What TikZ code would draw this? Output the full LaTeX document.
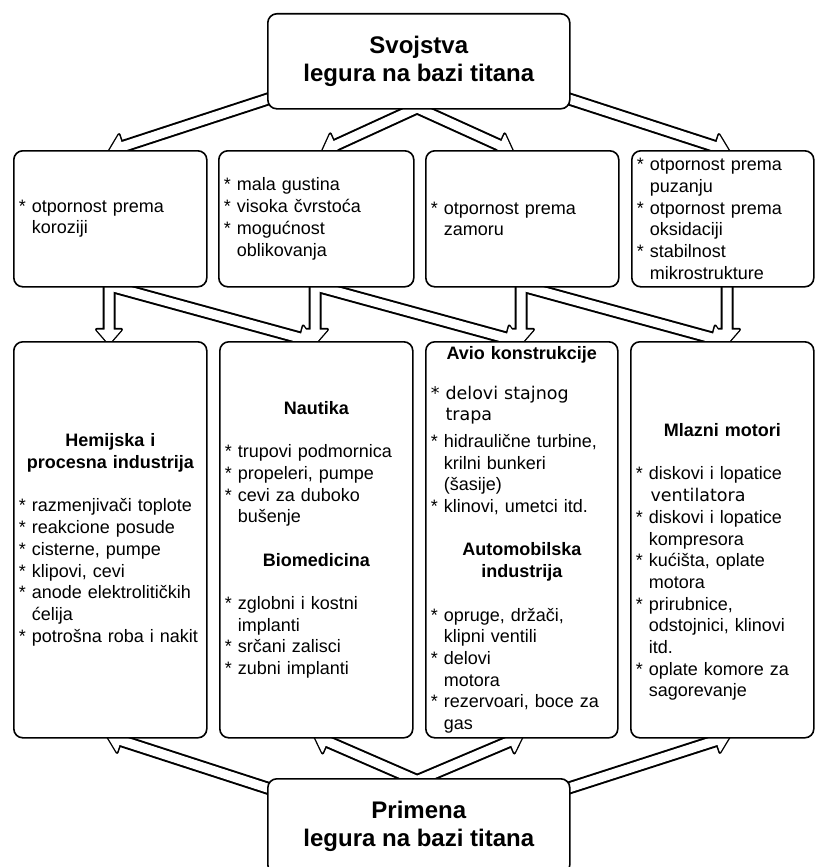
\documentclass[tikz,border=0pt]{standalone}
\usepackage{fontspec}
\setmainfont{Liberation Sans}
\newfontfamily\dejavu{DejaVu Sans}
\usetikzlibrary{calc,positioning,shapes.arrows,backgrounds}

\newcommand{\bul}{*\ }
\newcommand{\ind}{\hphantom{\bul}}
\newcommand{\hd}[1]{\makebox[\hsize]{\bfseries #1}}
\newcommand{\dv}[1]{{\dejavu\fontsize{17.5}{21.7}\selectfont #1}}
\newcommand{\blockarrow}[3]{%
  \path let \p1=($(#3)-(#2)$), \n1={atan2(\y1,\x1)}, \n2={veclen(\x1,\y1)} in
    node[#1, rotate=-\n1, minimum height=\n2] at ($(#2)!0.5!(#3)$) {};}

\tikzset{
  titlebox/.style={draw, line width=1.6pt, rounded corners=9pt, fill=white, anchor=north west,
    minimum width=302pt, minimum height=95pt, inner sep=0pt, align=center,
    font=\fontsize{24}{28}\selectfont\bfseries},
  itembox/.style={draw, line width=1.6pt, rounded corners=9pt, fill=white, anchor=north west,
    inner xsep=5pt, inner ysep=0pt, align=left, font=\fontsize{18}{21.7}\selectfont},
  arrowshape/.style={single arrow, single arrow head extend=7.5pt, single arrow tip angle=82,
    inner xsep=0pt, inner ysep=3.5pt, minimum width=0pt, outer sep=0pt, line join=round},
  arrowback/.style={arrowshape, draw=black, line width=3pt},
  arrowfront/.style={arrowshape, draw=white, fill=white, line width=1pt}
}

\begin{document}
\begin{tikzpicture}[x=1pt,y=1pt,yscale=-1]
	\useasboundingbox (0,0) rectangle (815,867);

	% title boxes
	\node[titlebox] (svojstva) at (267,13) {Svojstva\\legura na bazi titana};
	\node[titlebox] (primena) at (267,778) {Primena\\legura na bazi titana};

	% properties
	\node[itembox, minimum width=193pt, minimum height=136pt, text width=183pt] (korozija) at (13,150)
		{\bul otpornost prema\\\ind koroziji};
	\node[itembox, minimum width=195pt, minimum height=136pt, text width=185pt] (gustina) at (218,150)
		{\bul mala gustina\\\bul visoka čvrstoća\\\bul mogućnost\\\ind oblikovanja};
	\node[itembox, minimum width=193pt, minimum height=136pt, text width=183pt] (zamor) at (425,150)
		{\bul otpornost prema\\\ind zamoru};
	\node[itembox, minimum width=182pt, minimum height=136pt, text width=172pt] (puzanje) at (631,150)
		{\bul otpornost prema\\\ind puzanju\\\bul otpornost prema\\\ind oksidaciji\\\bul stabilnost\\\ind mikrostrukture};

	% applications
	\node[itembox, minimum width=193pt, minimum height=396pt, text width=183pt] (hemija) at (13,341)
		{\hd{Hemijska i}\\\hd{procesna industrija}\\[\baselineskip]
		 \bul razmenjivači toplote\\\bul reakcione posude\\\bul cisterne, pumpe\\\bul klipovi, cevi\\
		 \bul anode elektrolitičkih\\\ind ćelija\\\bul potrošna roba i nakit};
	\node[itembox, minimum width=193pt, minimum height=396pt, text width=183pt] (nautika) at (219,341)
		{\hd{Nautika}\\[\baselineskip]
		 \bul trupovi podmornica\\\bul propeleri, pumpe\\\bul cevi za duboko\\\ind bušenje\\[\baselineskip]
		 \hd{Biomedicina}\\[\baselineskip]
		 \bul zglobni i kostni\\\ind implanti\\\bul srčani zalisci\\\bul zubni implanti};
	\node[itembox, minimum width=192pt, minimum height=396pt, text width=182pt] (avio) at (425,341)
		{\hd{Avio konstrukcije}\\[18pt]
		 \dv{\bul delovi stajnog}\\\dv{\ind trapa}\\[5pt]
		 \bul hidraulične turbine,\\\ind krilni bunkeri\\\ind (šasije)\\\bul klinovi, umetci itd.\\[\baselineskip]
		 \hd{Automobilska}\\\hd{industrija}\\[\baselineskip]
		 \bul opruge, držači,\\\ind klipni ventili\\\bul delovi\\\ind motora\\\bul rezervoari, boce za\\\ind gas};
	\node[itembox, minimum width=183pt, minimum height=396pt, text width=173pt] (mlazni) at (630,341)
		{\mbox{}\\[36pt]\hd{Mlazni motori}\\[\baselineskip]
		 \bul diskovi i lopatice\\\dv{\ind ventilatora}\\\bul diskovi i lopatice\\\ind kompresora\\
		 \bul kućišta, oplate\\\ind motora\\\bul prirubnice,\\\ind odstojnici, klinovi\\\ind itd.\\
		 \bul oplate komore za\\\ind sagorevanje};

	% arrow ends
	\coordinate (a1t) at (275.6,96.5);  \coordinate (a1h) at (112,150);
	\coordinate (a2t) at (432,101);     \coordinate (a2h) at (325,150);
	\coordinate (a3t) at (402,101);     \coordinate (a3h) at (510,150);
	\coordinate (a4t) at (561.4,96.5);  \coordinate (a4h) at (726,150);
	\coordinate (v1t) at (109,282);     \coordinate (v1h) at (109,341);
	\coordinate (v2t) at (315,282);     \coordinate (v2h) at (315,341);
	\coordinate (v3t) at (521,282);     \coordinate (v3h) at (521,341);
	\coordinate (v4t) at (727,282);     \coordinate (v4h) at (727,341);
	\coordinate (d1t) at (109.4,285.8); \coordinate (d1h) at (311,341);
	\coordinate (d2t) at (315.4,285.8); \coordinate (d2h) at (517,341);
	\coordinate (d3t) at (521.4,285.8); \coordinate (d3h) at (723,341);
	\coordinate (b1t) at (275.6,790.7); \coordinate (b1h) at (110,737);
	\coordinate (b2t) at (432,787);     \coordinate (b2h) at (317,737);
	\coordinate (b3t) at (402,787);     \coordinate (b3h) at (520,737);
	\coordinate (b4t) at (560.4,790.7); \coordinate (b4h) at (727,737);

	\def\arrowlist{a1t/a1h,a2t/a2h,a3t/a3h,a4t/a4h,v1t/v1h,v2t/v2h,v3t/v3h,v4t/v4h,
		d1t/d1h,d2t/d2h,d3t/d3h,b1t/b1h,b2t/b2h,b3t/b3h,b4t/b4h}

	% hollow arrows behind the boxes
	\begin{scope}[on background layer]
		\foreach \src/\dst in \arrowlist {\blockarrow{arrowback}{\src}{\dst}}
		\foreach \src/\dst in \arrowlist {\blockarrow{arrowfront}{\src}{\dst}}
	\end{scope}

\end{tikzpicture}
\end{document}
